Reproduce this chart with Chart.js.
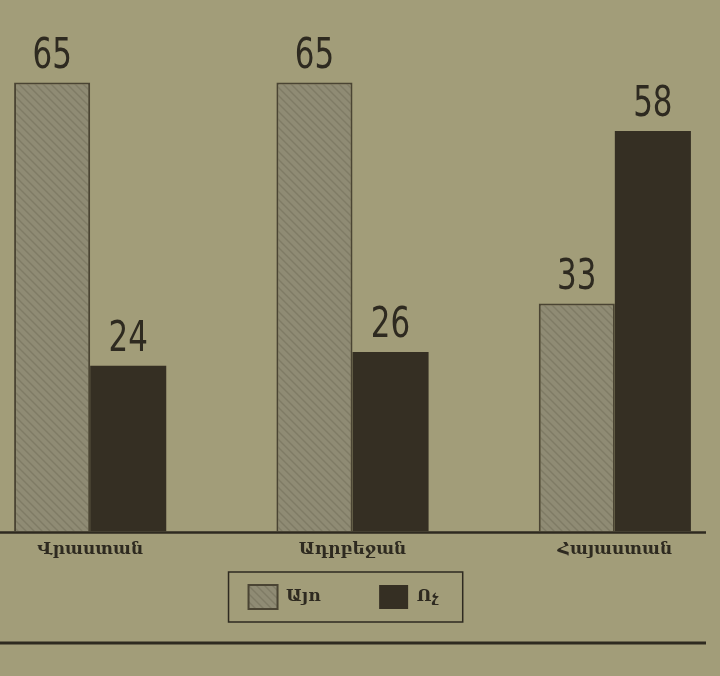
<!DOCTYPE html>
<html>
<head>
<meta charset="utf-8">
<script src="https://cdn.jsdelivr.net/npm/chart.js@4.4.1/dist/chart.umd.min.js"></script>
<style>
  html, body { margin: 0; padding: 0; width: 720px; height: 676px; overflow: hidden; background: #a29d79; }
  #wrap { position: absolute; left: -41px; top: 0; width: 787px; height: 676px; }
</style>
</head>
<body>
<div id="wrap"><canvas id="chart" width="787" height="676"></canvas></div>
<script>
const categories = ['Վրաստան', 'Ադրբեջան', 'Հայաստան'];
const yesValues = [65, 65, 33];
const noValues = [24, 26, 58];
const seriesNames = ['Այո', 'Ոչ'];

const colors = {
  light: '#8f8b74',
  hatch: '#7f7b65',
  dark: '#352f23',
  ink: '#2e2a20'
};

const legendFont = { family: '"DejaVu Serif", serif', size: 17, weight: 'bold' };

const canvas = document.getElementById('chart');
const ctx = canvas.getContext('2d');

// diagonal hatch for the light bars
const makeHatch = () => {
  const c = document.createElement('canvas');
  c.width = 8; c.height = 8;
  const g = c.getContext('2d');
  g.fillStyle = colors.light;
  g.fillRect(0, 0, 8, 8);
  g.strokeStyle = colors.hatch;
  g.lineWidth = 1.4;
  g.beginPath();
  g.moveTo(0, 0); g.lineTo(8, 8);
  g.moveTo(-4, 4); g.lineTo(4, 12);
  g.moveTo(4, -4); g.lineTo(12, 4);
  g.stroke();
  return ctx.createPattern(c, 'repeat');
};

const valueLabels = {
  id: 'valueLabels',
  afterDatasetsDraw(chart) {
    const c = chart.ctx;
    c.save();
    c.fillStyle = colors.ink;
    c.font = '43px "DejaVu Sans Condensed", "DejaVu Sans", sans-serif';
    c.textAlign = 'center';
    c.textBaseline = 'alphabetic';
    chart.data.datasets.forEach((ds, i) => {
      chart.getDatasetMeta(i).data.forEach((bar, j) => {
        c.save();
        c.translate(bar.x, bar.y - 15);
        c.scale(0.8, 1);
        c.fillText(String(ds.data[j]), 0, 0);
        c.restore();
      });
    });
    c.restore();
  }
};

const decorations = {
  id: 'decorations',
  afterDraw(chart) {
    const c = chart.ctx;
    const y0 = chart.scales.y.getPixelForValue(0);
    c.save();
    c.strokeStyle = colors.ink;
    // baseline
    c.lineWidth = 2.5;
    c.beginPath();
    c.moveTo(41, y0 + 1);
    c.lineTo(747, y0 + 1);
    c.stroke();
    // rule under the figure
    c.lineWidth = 3;
    c.beginPath();
    c.moveTo(41, 643);
    c.lineTo(747, 643);
    c.stroke();
    // frame round the legend (right edge from the visible text only)
    const boxes = chart.legend.legendHitBoxes;
    if (boxes && boxes.length) {
      const last = boxes[boxes.length - 1];
      c.font = `${legendFont.weight} ${legendFont.size}px ${legendFont.family}`;
      const lastText = seriesNames[seriesNames.length - 1];
      const left = boxes[0].left - 20;
      const right = last.left + 29 + legendFont.size / 2 + c.measureText(lastText).width + 24;
      const top = Math.min(...boxes.map(b => b.top)) - 13;
      const bottom = Math.max(...boxes.map(b => b.top + b.height)) + 13;
      c.lineWidth = 1.5;
      c.strokeRect(left, top, right - left, bottom - top);
    }
    c.restore();
  }
};

new Chart(ctx, {
  type: 'bar',
  data: {
    labels: categories,
    datasets: [
      {
        label: seriesNames[0],
        data: yesValues,
        backgroundColor: makeHatch(),
        borderColor: '#4a4433',
        borderWidth: 2,
        borderSkipped: 'bottom'
      },
      {
        label: seriesNames[1],
        data: noValues,
        backgroundColor: colors.dark,
        borderColor: colors.dark,
        borderWidth: 0
      }
    ]
  },
  options: {
    responsive: false,
    animation: false,
    layout: { padding: { top: 10, bottom: 57, left: 0, right: 0 } },
    datasets: {
      bar: { categoryPercentage: 0.58, barPercentage: 1 }
    },
    scales: {
      x: {
        grid: { display: false, drawTicks: false },
        border: { display: false },
        ticks: {
          color: colors.ink,
          padding: 8,
          font: { family: '"DejaVu Serif", serif', size: 17, weight: 'bold' }
        }
      },
      y: {
        display: false,
        min: 0,
        max: 75.5
      }
    },
    plugins: {
      tooltip: { enabled: false },
      legend: {
        position: 'bottom',
        labels: {
          color: colors.ink,
          boxWidth: 29,
          boxHeight: 24,
          padding: 17,
          font: legendFont,
          generateLabels(chart) {
            const items = Chart.defaults.plugins.legend.labels.generateLabels(chart);
            items.forEach((it, i) => {
              // spaces widen the gap between items; the trailing ones on the last item
              // nudge the centred legend a little to the left
              it.text = it.text + (i < items.length - 1 ? '       ' : '   ');
            });
            return items;
          }
        }
      }
    }
  },
  plugins: [valueLabels, decorations]
});
</script>
</body>
</html>
